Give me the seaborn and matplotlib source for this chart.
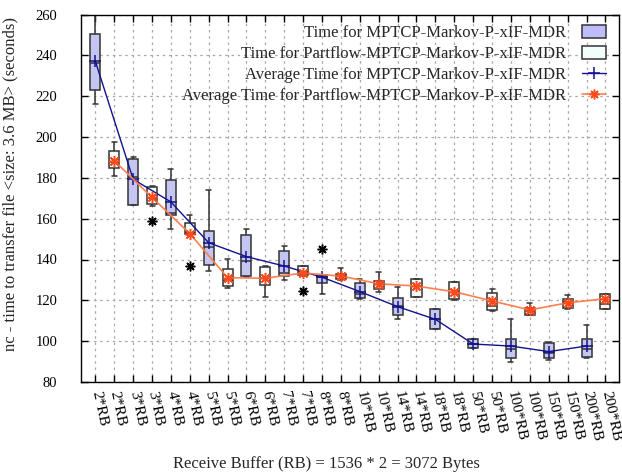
import numpy as np
import pandas as pd
import matplotlib
matplotlib.use("Agg")
import matplotlib.pyplot as plt
from matplotlib.patches import Patch
from matplotlib.lines import Line2D
import seaborn as sns

# Receive-buffer multiples on the x axis (each has one box per protocol)
buffers = ["2*RB", "3*RB", "4*RB", "5*RB", "6*RB", "7*RB", "8*RB",
           "10*RB", "14*RB", "18*RB", "50*RB", "100*RB", "150*RB", "200*RB"]

# Time for MPTCP-Markov-P-xIF-MDR (seconds)
mptcp_low  = [216.0, 166.5, 155.0, 134.2, 131.6, 130.0, 123.0, 120.5, 111.0, 105.8, 96.5, 89.7, 90.8, 91.8]
mptcp_q1   = [223.0, 166.8, 161.6, 137.2, 131.9, 131.9, 128.7, 120.9, 112.8, 105.8, 96.7, 91.7, 91.6, 92.2]
mptcp_med  = [236.1, 180.6, 163.0, 146.3, 139.1, 133.2, 131.5, 123.0, 117.0, 110.7, 98.6, 96.0, 94.0, 96.2]
mptcp_q3   = [250.3, 189.1, 178.9, 154.0, 151.9, 144.0, 132.3, 128.5, 121.0, 115.8, 101.0, 100.9, 99.3, 101.0]
mptcp_high = [262.0, 190.0, 184.2, 174.0, 154.8, 146.8, 132.5, 130.3, 126.7, 115.8, 101.3, 111.1, 99.8, 107.9]
mptcp_mean = [237.1, 179.3, 168.2, 148.2, 141.4, 136.8, 131.3, 124.3, 116.9, 110.7, 98.6, 97.6, 94.9, 97.6]

# Time for Partflow-MPTCP-Markov-P-xIF-MDR (seconds)
part_low  = [181.0, 166.0, 152.0, 125.9, 121.8, 132.0, 130.0, 123.9, 121.8, 120.0, 115.0, 113.0, 116.0, 115.9]
part_q1   = [185.0, 167.0, 152.5, 127.0, 127.5, 132.4, 130.6, 125.7, 121.8, 120.7, 115.3, 113.0, 116.4, 115.9]
part_med  = [188.0, 170.0, 153.0, 130.0, 131.0, 134.0, 132.0, 128.0, 127.0, 124.0, 117.0, 115.0, 119.0, 118.0]
part_q3   = [193.0, 175.4, 158.0, 135.2, 136.2, 137.0, 133.0, 129.6, 130.6, 128.8, 123.7, 116.4, 120.8, 123.2]
part_high = [197.7, 176.2, 161.8, 140.1, 137.0, 137.0, 136.0, 134.0, 130.6, 128.8, 125.7, 118.7, 122.6, 123.2]
part_mean = [188.4, 170.4, 152.7, 131.1, 130.8, 133.4, 131.9, 128.1, 127.0, 124.2, 119.7, 115.3, 118.8, 120.8]

# Points outside the whiskers
out_buffer = ["3*RB", "4*RB", "7*RB", "8*RB"]
out_series = ["Partflow", "Partflow", "Partflow", "MPTCP"]
out_value  = [159.0, 137.0, 124.7, 145.3]

series_names = ["MPTCP", "Partflow"]
legend_labels = ["Time for MPTCP-Markov-P-xIF-MDR",
                 "Time for Partflow-MPTCP-Markov-P-xIF-MDR",
                 "Average Time for MPTCP-Markov-P-xIF-MDR",
                 "Average Time for Partflow-MPTCP-Markov-P-xIF-MDR"]

box_fill = {"MPTCP": "#bdbdfa", "Partflow": "#f2fff9"}
edge = "#333333"
blue_line = "#12128c"
orange_line = "#ff7f50"
orange_mark = "#ff4a1c"

sns.set_theme(style="ticks")
plt.rcParams["font.family"] = ["Liberation Serif", "DejaVu Serif"]
plt.rcParams["axes.edgecolor"] = "black"
plt.rcParams["axes.linewidth"] = 1.0

# Slot of each box along the axis: MPTCP then Partflow for every buffer size
def slot(buf, series):
    return 2 * buffers.index(buf) + series_names.index(series)

rows = []
for name, stats in (("MPTCP", (mptcp_low, mptcp_q1, mptcp_med, mptcp_q3, mptcp_high)),
                    ("Partflow", (part_low, part_q1, part_med, part_q3, part_high))):
    for i, buf in enumerate(buffers):
        for arr in stats:
            rows.append({"pos": slot(buf, name), "time": arr[i], "series": name})
df = pd.DataFrame(rows)

fig = plt.figure(figsize=(6.22, 4.76), dpi=100)
ax = fig.add_axes([81 / 622, 1 - 382 / 476, (619 - 81) / 622, (382 - 14.5) / 476])

sns.boxplot(data=df, x="pos", y="time", hue="series", hue_order=series_names,
            native_scale=True, dodge=False, width=0.53, whis=np.inf,
            palette=box_fill, linecolor=edge, linewidth=1.1,
            showfliers=False, legend=False, ax=ax)

mptcp_pos = [slot(b, "MPTCP") for b in buffers]
part_pos = [slot(b, "Partflow") for b in buffers]

sns.lineplot(x=mptcp_pos, y=mptcp_mean, color=blue_line, linewidth=1.0,
             marker="+", markersize=8, markeredgewidth=1.1,
             markeredgecolor=blue_line, ax=ax, zorder=5)
sns.lineplot(x=part_pos, y=part_mean, color=orange_line, linewidth=1.2,
             marker=(8, 2, 0), markersize=8, markeredgewidth=1.1,
             markeredgecolor=orange_mark, ax=ax, zorder=5)

out_pos = [slot(b, s) for b, s in zip(out_buffer, out_series)]
sns.lineplot(x=out_pos, y=out_value, linestyle="none", marker=(8, 2, 0),
             markersize=7, markeredgewidth=1.1, markeredgecolor="black",
             color="black", ax=ax, zorder=5)

tick_labels = [b for b in buffers for _ in series_names]
ax.set_xlim(-0.76, 27.72)
ax.set_ylim(80, 260)
ax.set_xticks(range(len(tick_labels)))
ax.set_xticklabels(tick_labels, rotation=-78, ha="left", va="center",
                   rotation_mode="anchor", fontsize=11)
ax.set_yticks(range(80, 261, 20))
ax.tick_params(axis="y", labelsize=10.5, pad=17)
ax.tick_params(axis="x", pad=7)
ax.tick_params(direction="in", length=5, width=1, top=True, right=True,
               colors="black")

ax.grid(True, color="#a8a8a8", linestyle=(0, (2, 3)), linewidth=0.9)
ax.set_axisbelow(True)
for sp in ax.spines.values():
    sp.set_visible(True)
    sp.set_color("black")

ax.set_xlabel("Receive Buffer (RB) = 1536 * 2 = 3072 Bytes", fontsize=12)
ax.set_ylabel("nc - time to transfer file <size: 3.6 MB> (seconds)", fontsize=12)
ax.xaxis.set_label_coords(0.457, -0.2)
ax.yaxis.set_label_coords(-0.117, 0.54)

handles = [
    Patch(facecolor=box_fill["MPTCP"], edgecolor=edge, linewidth=1.1),
    Patch(facecolor=box_fill["Partflow"], edgecolor=edge, linewidth=1.1),
    Line2D([], [], color=blue_line, linewidth=1.0, marker="+", markersize=8,
           markeredgewidth=1.1),
    Line2D([], [], color=orange_line, linewidth=1.2, marker=(8, 2, 0),
           markersize=7, markeredgewidth=1.1, markeredgecolor=orange_mark),
]
ax.legend(handles, legend_labels, loc="upper right", bbox_to_anchor=(0.975, 0.972),
          frameon=False, markerfirst=False, fontsize=12, handlelength=1.4,
          handleheight=0.8, handletextpad=1.0, labelspacing=0.3,
          borderaxespad=0.0, borderpad=0.0)

fig.savefig("out.png", dpi=100)
